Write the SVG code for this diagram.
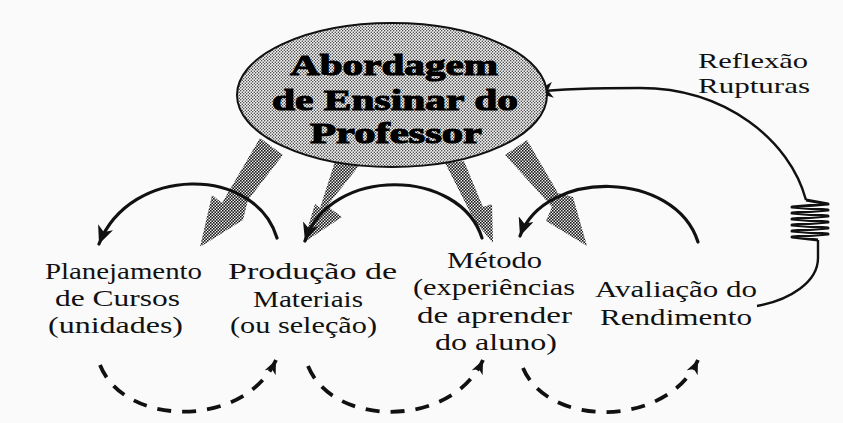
<svg xmlns="http://www.w3.org/2000/svg" width="843" height="423" viewBox="0 0 843 423">
  <defs>
    <pattern id="dotsLight" width="3" height="3" patternUnits="userSpaceOnUse">
      <rect width="3" height="3" fill="#f6f6f6"/>
      <circle cx="0.75" cy="0.75" r="0.7" fill="#222"/>
      <circle cx="2.25" cy="2.25" r="0.7" fill="#222"/>
    </pattern>
    <pattern id="dotsDark" width="3" height="3" patternUnits="userSpaceOnUse">
      <rect width="3" height="3" fill="#eeeeee"/>
      <circle cx="0.75" cy="0.75" r="0.9" fill="#111"/>
      <circle cx="2.25" cy="2.25" r="0.9" fill="#111"/>
    </pattern>
    <marker id="head" markerWidth="20" markerHeight="16" refX="18" refY="8" orient="auto" markerUnits="userSpaceOnUse">
      <path d="M0,0 L18,8 L0,16 L5,8 Z" fill="#111"/>
    </marker>
    <marker id="headSmall" markerWidth="16" markerHeight="12" refX="14" refY="6" orient="auto" markerUnits="userSpaceOnUse">
      <path d="M0,0 L14,6 L0,12 L4,6 Z" fill="#111"/>
    </marker>
  </defs>
  <style>
    .lbl { font-family: 'Liberation Serif', 'Times New Roman', serif; font-size: 24px; fill: #111; text-anchor: middle; }
    .small { font-size: 21px; }
    .title { font-family: 'Liberation Serif', 'Times New Roman', serif; font-size: 30px; font-weight: bold; fill: #000; stroke: #000; stroke-width: 1.1; text-anchor: middle; }
    .arc { fill: none; stroke: #111; stroke-width: 3.2; stroke-linecap: round; }
    .dash { fill: none; stroke: #111; stroke-width: 3.8; stroke-dasharray: 14 11; }
    .feed { fill: none; stroke: #111; stroke-width: 2.4; }
    .shade { fill: url(#dotsDark); stroke: none; }
  </style>
  <rect width="843" height="423" fill="#fafafa"/>

  <g id="connectors">
    <!-- shaded broad arrows from the central ellipse -->
    <polygon class="shade" points="260,138 283,155 248,200 243,220 200,247 212,195 222,203"/>
    <polygon class="shade" points="338,152 362,162 327,206 342,217 303,243 315,204 320,208"/>
    <polygon class="shade" points="445,163 464,161 483,207 492,204 493,243 478,225 470,212"/>
    <polygon class="shade" points="505,155 527,140 558,193 573,197 587,246 546,221 552,207"/>

    <!-- solid curved arrows -->
    <path class="arc" d="M277,238 C255,165 130,165 99,244" marker-end="url(#head)"/>
    <path class="arc" d="M482,238 C460,168 330,165 305,241" marker-end="url(#head)"/>
    <path class="arc" d="M698,242 C675,170 545,168 520,236" marker-end="url(#head)"/>

    <!-- dashed curved arrows -->
    <path class="dash" d="M100,365 C125,428 245,428 276,360" marker-end="url(#headSmall)"/>
    <path class="dash" d="M308,366 C333,428 452,428 483,360" marker-end="url(#headSmall)"/>
    <path class="dash" d="M523,368 C548,428 667,428 698,360" marker-end="url(#headSmall)"/>

    <!-- feedback line with coil -->
    <path class="feed" d="M757,306 C790,300 818,282 818,258 L818,240"/>
    <path d="M818,240 L792,237 L828,234 L792,231 L828,228 L792,225 L828,222 L792,219 L828,216 L792,213 L828,210 L792,207 L828,204 L806,200" fill="none" stroke="#111" stroke-width="3" stroke-linejoin="round"/>
    <path class="feed" d="M806,200 C790,140 725,88 640,88 C590,88 560,89 535,92" marker-end="url(#head)"/>
  </g>

  <g id="abordagem">
    <ellipse cx="392" cy="95" rx="155" ry="72" fill="url(#dotsLight)" stroke="#111" stroke-width="2"/>
    <text class="title" font-family="Liberation Serif, serif" x="394" y="75" textLength="208" lengthAdjust="spacingAndGlyphs">Abordagem</text>
    <text class="title" font-family="Liberation Serif, serif" x="395" y="110" textLength="246" lengthAdjust="spacingAndGlyphs">de Ensinar do</text>
    <text class="title" font-family="Liberation Serif, serif" x="396" y="143" textLength="172" lengthAdjust="spacingAndGlyphs">Professor</text>
  </g>

  <g id="planejamento">
    <text class="lbl" x="123.5" y="279" textLength="157" lengthAdjust="spacingAndGlyphs">Planejamento</text>
    <text class="lbl" x="117.5" y="306" textLength="125" lengthAdjust="spacingAndGlyphs">de Cursos</text>
    <text class="lbl" x="115.5" y="333" textLength="135" lengthAdjust="spacingAndGlyphs">(unidades)</text>
  </g>

  <g id="producao">
    <text class="lbl" x="312.5" y="279" textLength="169" lengthAdjust="spacingAndGlyphs">Produção de</text>
    <text class="lbl" x="308" y="307" textLength="110" lengthAdjust="spacingAndGlyphs">Materiais</text>
    <text class="lbl" x="303.5" y="333" textLength="147" lengthAdjust="spacingAndGlyphs">(ou seleção)</text>
  </g>

  <g id="metodo">
    <text class="lbl" x="494.5" y="268" textLength="95" lengthAdjust="spacingAndGlyphs">Método</text>
    <text class="lbl" x="494" y="295" textLength="162" lengthAdjust="spacingAndGlyphs">(experiências</text>
    <text class="lbl" x="494.5" y="323" textLength="155" lengthAdjust="spacingAndGlyphs">de aprender</text>
    <text class="lbl" x="496" y="350" textLength="122" lengthAdjust="spacingAndGlyphs">do aluno)</text>
  </g>

  <g id="avaliacao">
    <text class="lbl" x="676" y="297" textLength="162" lengthAdjust="spacingAndGlyphs">Avaliação do</text>
    <text class="lbl" x="676" y="325" textLength="152" lengthAdjust="spacingAndGlyphs">Rendimento</text>
  </g>

  <g id="reflexao">
    <text class="lbl small" x="753" y="68" textLength="110" lengthAdjust="spacingAndGlyphs">Reflexão</text>
    <text class="lbl small" x="754" y="93" textLength="112" lengthAdjust="spacingAndGlyphs">Rupturas</text>
  </g>
</svg>
